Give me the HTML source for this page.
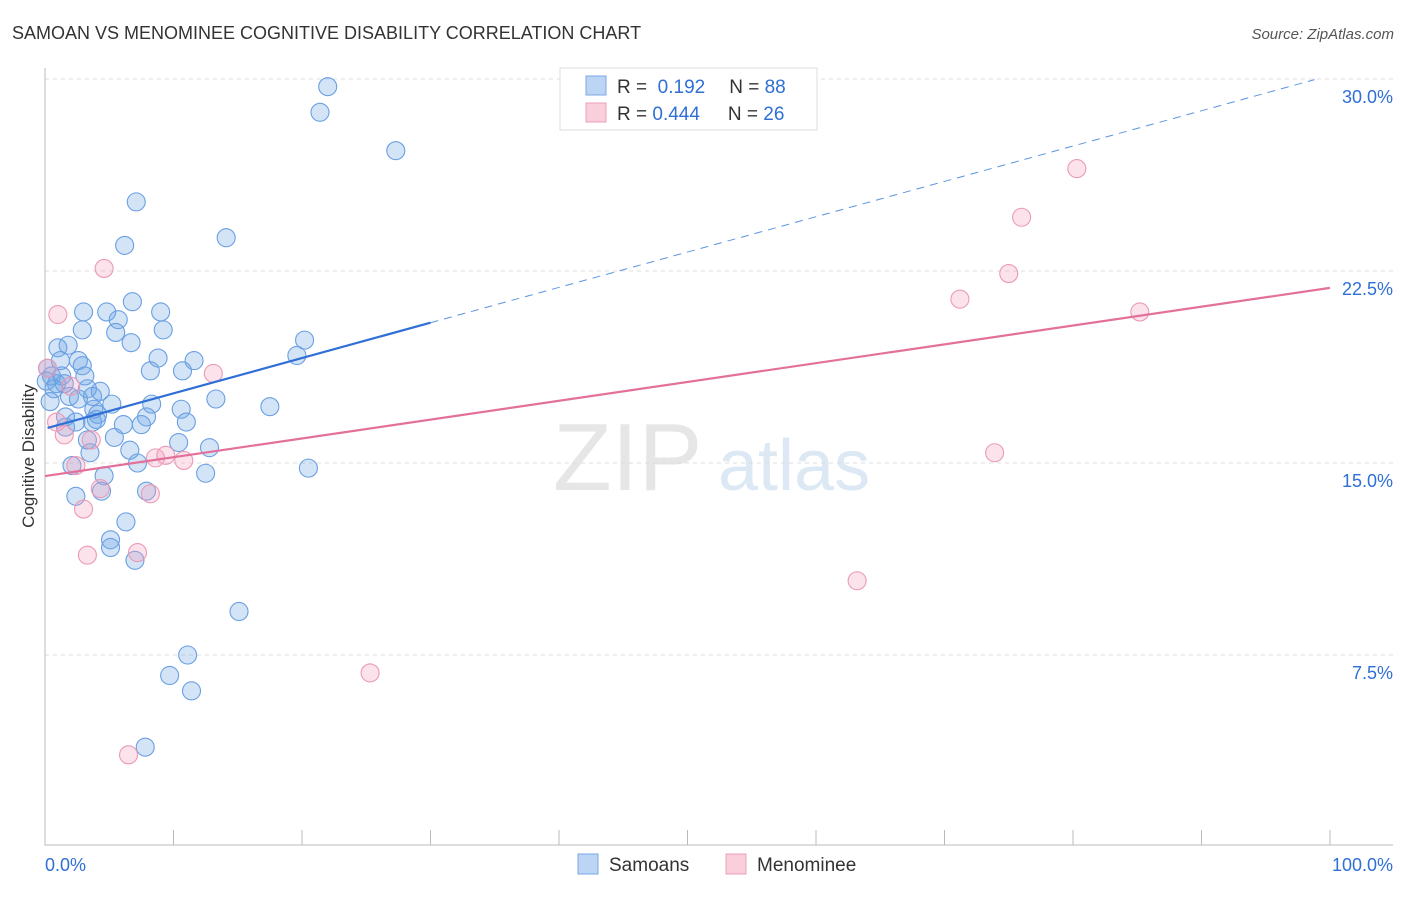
<!DOCTYPE html>
<html><head><meta charset="utf-8"><style>
body{margin:0;background:#fff;font-family:"Liberation Sans",sans-serif}
svg text{font-family:"Liberation Sans",sans-serif}
</style></head><body>
<svg id="c" width="1406" height="892" xmlns="http://www.w3.org/2000/svg">
<text x="12" y="39" font-size="18" fill="#333">SAMOAN VS MENOMINEE COGNITIVE DISABILITY CORRELATION CHART</text>
<text x="1394" y="39" font-size="15" fill="#555" text-anchor="end" font-style="italic">Source: ZipAtlas.com</text>
<text x="553" y="490" font-size="96" fill="#e6e6e6" font-family="Liberation Serif">ZIP</text>
<text x="718" y="490" font-size="72" fill="#dde8f5">atlas</text>
<text transform="translate(34,456) rotate(-90)" font-size="17" fill="#333" text-anchor="middle">Cognitive Disability</text>
<g id="grid"></g><g id="pts"></g><g id="lines"></g>
<g>
<rect x="560" y="68" width="257" height="62" fill="#fff" stroke="#ddd"/>
<rect x="586" y="76" width="20" height="19" fill="#bcd5f5" stroke="#7aa8e6"/>
<rect x="586" y="103" width="20" height="19" fill="#f9cfdc" stroke="#ee9fb8"/>
<text x="617" y="93" font-size="19" fill="#333">R = <tspan fill="#2f6fd6">&#160;0.192</tspan><tspan dx="24">N = </tspan><tspan fill="#2f6fd6">88</tspan></text>
<text x="617" y="120" font-size="19" fill="#333">R = <tspan fill="#2f6fd6">0.444</tspan><tspan dx="28">N = </tspan><tspan fill="#2f6fd6">26</tspan></text>
</g>
<g>
<rect x="578" y="854" width="20" height="20" fill="#bcd5f5" stroke="#7aa8e6"/>
<text x="609" y="871" font-size="19" fill="#333">Samoans</text>
<rect x="726" y="854" width="20" height="20" fill="#f9cfdc" stroke="#ee9fb8"/>
<text x="757" y="871" font-size="19" fill="#333">Menominee</text>
</g>
</svg>
<script>
const blueX=[22.0,21.4,27.3,7.1,6.2,14.1,6.8,3.0,4.8,9.0,5.7,5.5,9.2,6.7,1.0,1.8,20.2,19.6,2.6,8.8,11.6,2.9,8.2,10.7,0.2,0.5,1.3,3.1,0.1,0.9,1.5,0.7,3.3,4.3,1.9,3.7,2.6,0.4,5.2,8.3,13.3,17.5,10.6,3.8,4.1,1.6,7.9,11.0,2.4,3.7,4.0,1.6,6.1,7.5,5.4,3.3,10.4,12.8,3.5,6.6,7.2,2.1,20.5,12.5,4.6,4.4,2.4,7.9,6.3,5.1,5.1,7.0,15.1,11.1,9.7,11.4,7.8,2.9,1.2];
const blueY=[29.7,28.7,27.2,25.2,23.5,23.8,21.3,20.9,20.9,20.9,20.6,20.1,20.2,19.7,19.5,19.6,19.8,19.2,19.0,19.1,19.0,18.8,18.6,18.6,18.7,18.4,18.4,18.4,18.2,18.1,18.1,17.9,17.9,17.8,17.6,17.6,17.5,17.4,17.3,17.3,17.5,17.2,17.1,17.1,16.9,16.8,16.8,16.6,16.6,16.6,16.7,16.4,16.5,16.5,16.0,15.9,15.8,15.6,15.4,15.5,15.0,14.9,14.8,14.6,14.5,13.9,13.7,13.9,12.7,12.0,11.7,11.2,9.2,7.5,6.7,6.1,3.9,20.2,19.0];
const pinkX=[1.0,4.6,80.3,76.0,75.0,71.2,85.2,13.1,0.2,2.0,0.9,1.5,3.6,2.4,8.6,9.4,10.8,4.3,8.2,3.0,3.3,7.2,73.9,63.2,25.3,6.5];
const pinkY=[20.8,22.6,26.5,24.6,22.4,21.4,20.9,18.5,18.7,18.0,16.6,16.1,15.9,14.9,15.2,15.3,15.1,14.0,13.8,13.2,11.4,11.5,15.4,10.4,6.8,3.6];
const yTicks=[7.5,15.0,22.5,30.0];
const blueTrend=[16.34,0.138];
const pinkTrend=[14.49,21.84];
const X=v=>45+v*12.85, Y=v=>847-v*25.6;
const NS='http://www.w3.org/2000/svg';
function mk(t,a,p){const e=document.createElementNS(NS,t);for(const k in a)e.setAttribute(k,a[k]);p.appendChild(e);return e;}
const g=document.getElementById('grid'),svg=document.getElementById('c');
yTicks.forEach(t=>{
 const l=mk('line',{x1:45,x2:1393,y1:Y(t),y2:Y(t),stroke:'#ddd','stroke-dasharray':'4,4'},g);
 
 
 const tx=mk('text',{x:1393,y:Y(t)+24,'font-size':18,fill:'#2f6fd6','text-anchor':'end'},g);
 tx.textContent=t.toFixed(1)+'%';
 
 
});
const ax=mk('path',{d:'M45,68V845H1393',stroke:'#bbb',fill:'none'},g);


for(let i=0;i<=10;i++){const t=mk('line',{x1:X(i*10),x2:X(i*10),y1:830,y2:845,stroke:'#bbb'},g);
 
 }
[['0.0%',45,'start'],['100.0%',1393,'end']].forEach(a=>{const t=mk('text',{x:a[1],y:871,'font-size':18,fill:'#2f6fd6','text-anchor':a[2]},g);t.textContent=a[0];
 
 });
const p=document.getElementById('pts');
blueX.forEach((x,i)=>{const c=mk('circle',{cx:X(x),cy:Y(blueY[i]),r:9,fill:'rgba(110,165,230,0.3)',stroke:'#6a9fe2','stroke-width':1.1},p);
 
 });
pinkX.forEach((x,i)=>{const c=mk('circle',{cx:X(x),cy:Y(pinkY[i]),r:9,fill:'rgba(242,160,188,0.3)',stroke:'#eb9ab5','stroke-width':1.1},p);
 
 });
const L=document.getElementById('lines');
const bf=x=>blueTrend[0]+blueTrend[1]*x;
let l1=mk('line',{x1:X(0.2),y1:Y(bf(0.2)),x2:X(30),y2:Y(bf(30)),stroke:'#2f6fd6','stroke-width':2.2},L);


let l2=mk('line',{x1:X(30),y1:Y(bf(30)),x2:X(98.8),y2:Y(bf(98.8)),stroke:'#5b95e0','stroke-width':1,'stroke-dasharray':'8,6'},L);


let l3=mk('line',{x1:X(0),y1:Y(pinkTrend[0]),x2:X(100),y2:Y(pinkTrend[1]),stroke:'#e3709a','stroke-width':2.2},L);


</script>
</body></html>
